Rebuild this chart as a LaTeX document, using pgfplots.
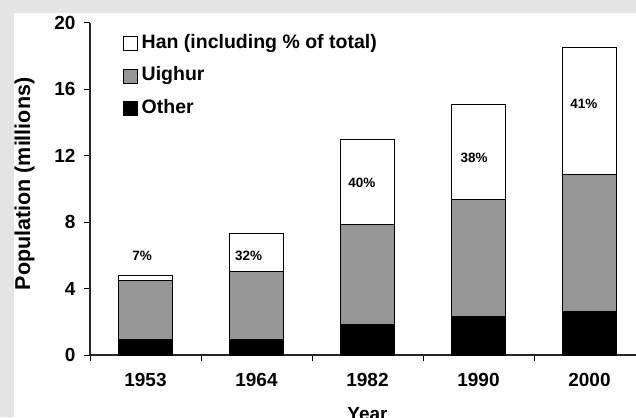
\documentclass[border=0pt]{standalone}
\usepackage{pgfplots}
\pgfplotsset{compat=1.18}
\usepackage{fontspec}
\setmainfont{Liberation Sans}
\definecolor{bggray}{RGB}{228,228,228}
\definecolor{uig}{RGB}{150,150,150}
\begin{document}
\begin{tikzpicture}
\fill[bggray] (0pt,0pt) rectangle (636pt,417pt);
\fill[white] (14pt,0pt) rectangle (636pt,404pt);
\begin{axis}[
  at={(90pt,62pt)}, anchor=south west, scale only axis,
  width=555pt, height=332pt,
  xmin=-0.5, xmax=4.5, ymin=0, ymax=20,
  ybar stacked, bar width=54pt,
  axis lines=left, axis line style={line width=1.3pt, -, black!85},
  ytick={0,4,8,12,16,20},
  xtick={-0.5,0.5,1.5,2.5,3.5}, xticklabels={},
  extra x ticks={0,1,2,3,4}, extra x tick labels={1953,1964,1982,1990,2000},
  extra x tick style={major tick length=0pt, xticklabel style={yshift=-15pt}},
  tick align=outside,
  major tick length=6pt,
  tick style={black, line width=1pt},
  /pgf/number format/assume math mode=true,
  tick label style={font=\fontsize{19}{22}\selectfont\bfseries},
  yticklabel style={xshift=-5pt},
  ylabel={Population (millions)},
  ylabel style={at={(axis description cs:-0.118,0.515)}, anchor=center, font=\fontsize{21.5}{24}\selectfont\bfseries},
  xlabel={Year},
  xlabel style={at={(axis description cs:0.5,-0.196)}, anchor=base, font=\fontsize{19}{22}\selectfont\bfseries},
  reverse legend,
  legend cell align=left,
  legend style={at={(axis description cs:0.0535,0.976)}, anchor=north west, draw=none, fill=none,
    font=\fontsize{19.5}{22}\selectfont\bfseries,
    nodes={inner sep=2pt, text height=13pt, text depth=3.5pt}, row sep=12pt,
    /tikz/every odd column/.append style={column sep=1.5pt}},
  legend image code/.code={\draw[#1, line width=0.8pt] (0pt,-7pt) rectangle (14.5pt,7pt);},
  clip=false,
]
\addplot[fill=black, draw=black, line width=1pt] coordinates {(0,0.95) (1,0.95) (2,1.85) (3,2.3) (4,2.6)};
\addplot[fill=uig, draw=black, line width=1pt] coordinates {(0,3.55) (1,4.05) (2,6.0) (3,7.05) (4,8.25)};
\addplot[fill=white, draw=black, line width=1pt] coordinates {(0,0.3) (1,2.3) (2,5.15) (3,5.75) (4,7.65)};
\legend{Other, Uighur, Han (including \% of total)}
\coordinate (pa) at (axis cs:-0.03,6.0);
\coordinate (pb) at (axis cs:0.93,6.0);
\coordinate (pc) at (axis cs:1.95,10.4);
\coordinate (pd) at (axis cs:2.96,11.9);
\coordinate (pe) at (axis cs:3.95,15.1);
\end{axis}
\begin{scope}[every node/.style={font=\fontsize{13.5}{15}\selectfont\bfseries}]
\node at (pa) {7\%};
\node at (pb) {32\%};
\node at (pc) {40\%};
\node at (pd) {38\%};
\node at (pe) {41\%};
\end{scope}
\pgfresetboundingbox
\path[use as bounding box] (0pt,0pt) rectangle (636pt,417pt);
\end{tikzpicture}
\end{document}
